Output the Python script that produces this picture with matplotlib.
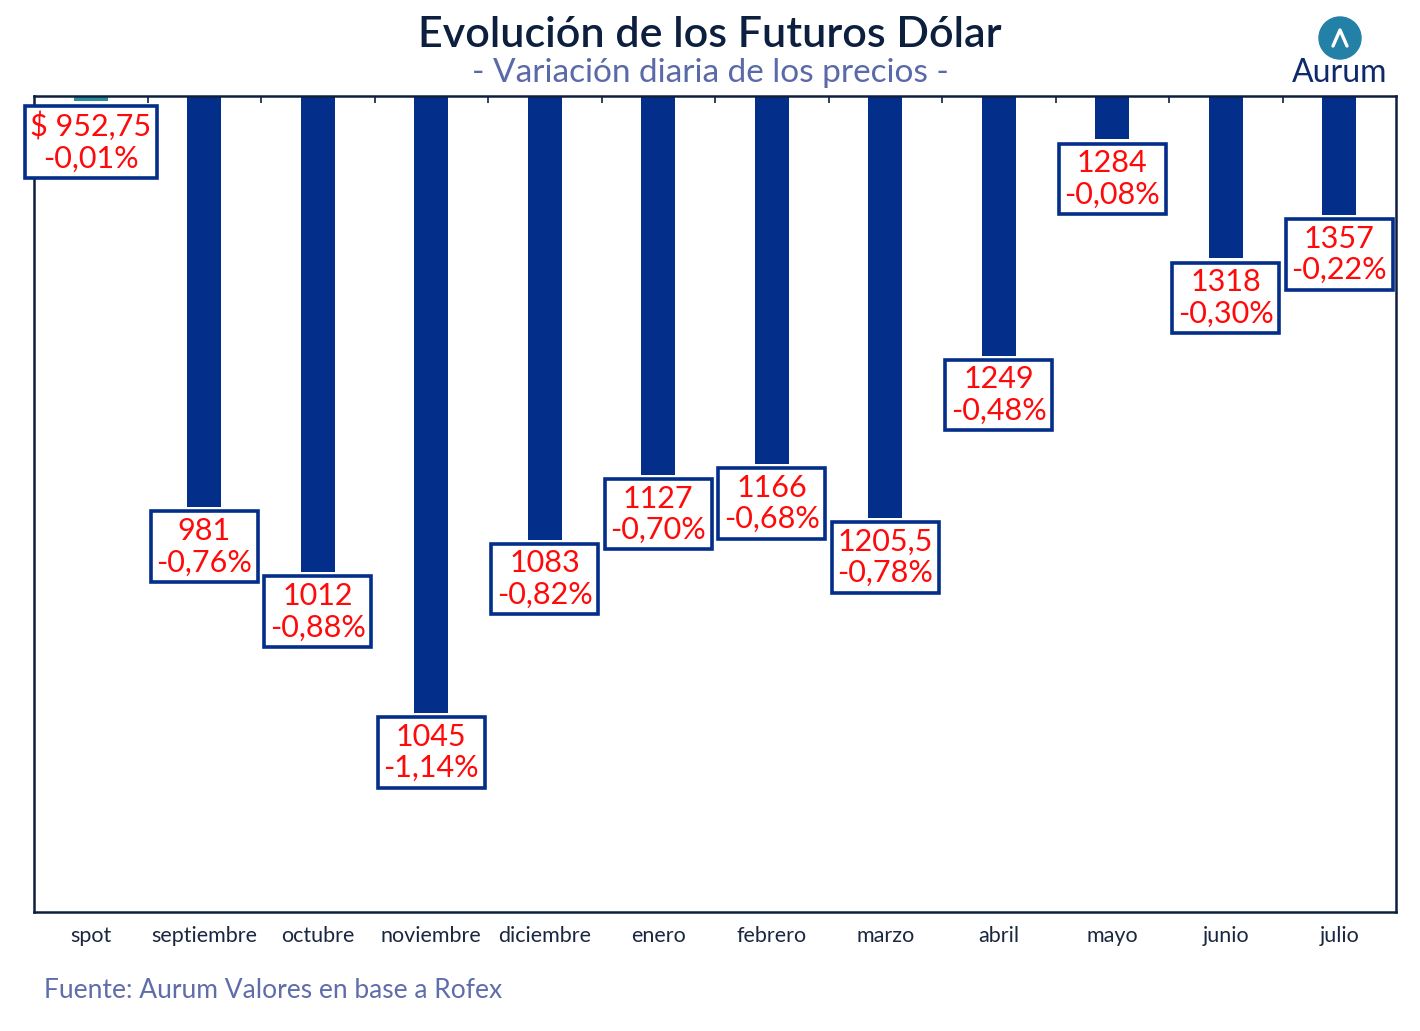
import matplotlib
matplotlib.use("Agg")
import matplotlib.pyplot as plt
from matplotlib.patches import Circle
from matplotlib.lines import Line2D

# Data
categories = ["spot", "septiembre", "octubre", "noviembre", "diciembre", "enero",
              "febrero", "marzo", "abril", "mayo", "junio", "julio"]
variation = [-0.01, -0.76, -0.88, -1.14, -0.82, -0.70, -0.68, -0.78, -0.48, -0.08, -0.30, -0.22]
prices = ["$ 952,75", "981", "1012", "1045", "1083", "1127", "1166", "1205,5",
          "1249", "1284", "1318", "1357"]
pct_labels = ["-0,01%", "-0,76%", "-0,88%", "-1,14%", "-0,82%", "-0,70%", "-0,68%",
              "-0,78%", "-0,48%", "-0,08%", "-0,30%", "-0,22%"]

NAVY = "#032E8A"
DARK = "#0D1F3F"
RED = "#FF0A0A"
FONT = ["Lato", "DejaVu Sans"]

plt.rcParams["font.family"] = FONT

fig = plt.figure(figsize=(14.2, 10.31), dpi=100)
ax = fig.add_axes([34 / 1420, 1 - 912 / 1031, 1362 / 1420, 816 / 1031])

x = list(range(len(categories)))
colors = ["#2A8F9C"] + [NAVY] * (len(categories) - 1)
ax.bar(x, variation, width=0.3, color=colors, zorder=2)

ax.set_xlim(-0.5, len(categories) - 0.5)
ax.set_ylim(-1.508, 0)

for i, (v, p, t) in enumerate(zip(variation, prices, pct_labels)):
    ax.annotate(f"{p}\n{t}", xy=(i, v), xytext=(0, -7), textcoords="offset points",
                ha="center", va="top", fontsize=22, color=RED, linespacing=1.15,
                bbox=dict(boxstyle="square,pad=0.18", fc="white", ec=NAVY, lw=2.6),
                zorder=5, annotation_clip=False)

for s in ax.spines.values():
    s.set_color(DARK)
    s.set_linewidth(1.8)

ax.set_yticks([])
ax.set_xticks(x)
ax.set_xticklabels(categories, fontsize=15.5, color="#1A2740")
ax.tick_params(axis="x", length=0, pad=10)
# small tick marks between categories along the top (zero) line
ax.set_xticks([i + 0.5 for i in x[:-1]], minor=True)
ax.tick_params(axis="x", which="minor", length=5, width=1.2, color=DARK,
               direction="in", bottom=False, top=True)

fig.text(0.5, 1 - 35 / 1031, "Evolución de los Futuros Dólar", ha="center", va="center",
         fontsize=31, color=DARK, fontweight="semibold")
fig.text(0.5, 1 - 73 / 1031, "- Variación diaria de los precios -", ha="center", va="center",
         fontsize=24, color="#5A69A8")
fig.text(44 / 1420, 1 - 990 / 1031, "Fuente: Aurum Valores en base a Rofex", ha="left",
         va="center", fontsize=19, color="#5F6DAA")

# logo
logo = fig.add_axes([1290 / 1420, 1 - 95 / 1031, 100 / 1420, 85 / 1031])
logo.set_xlim(0, 100)
logo.set_ylim(0, 85)
logo.set_aspect("equal")
logo.axis("off")
logo.add_patch(Circle((50, 57), 21, color="#2380A6"))
logo.add_line(Line2D([43, 50, 57], [49, 65, 49], color="white", lw=2.4,
                     solid_capstyle="round", solid_joinstyle="round"))
logo.text(50, 22, "Aurum", ha="center", va="center", fontsize=23, color="#0D2A6B")

fig.savefig("out.png", dpi=100, facecolor="white")
